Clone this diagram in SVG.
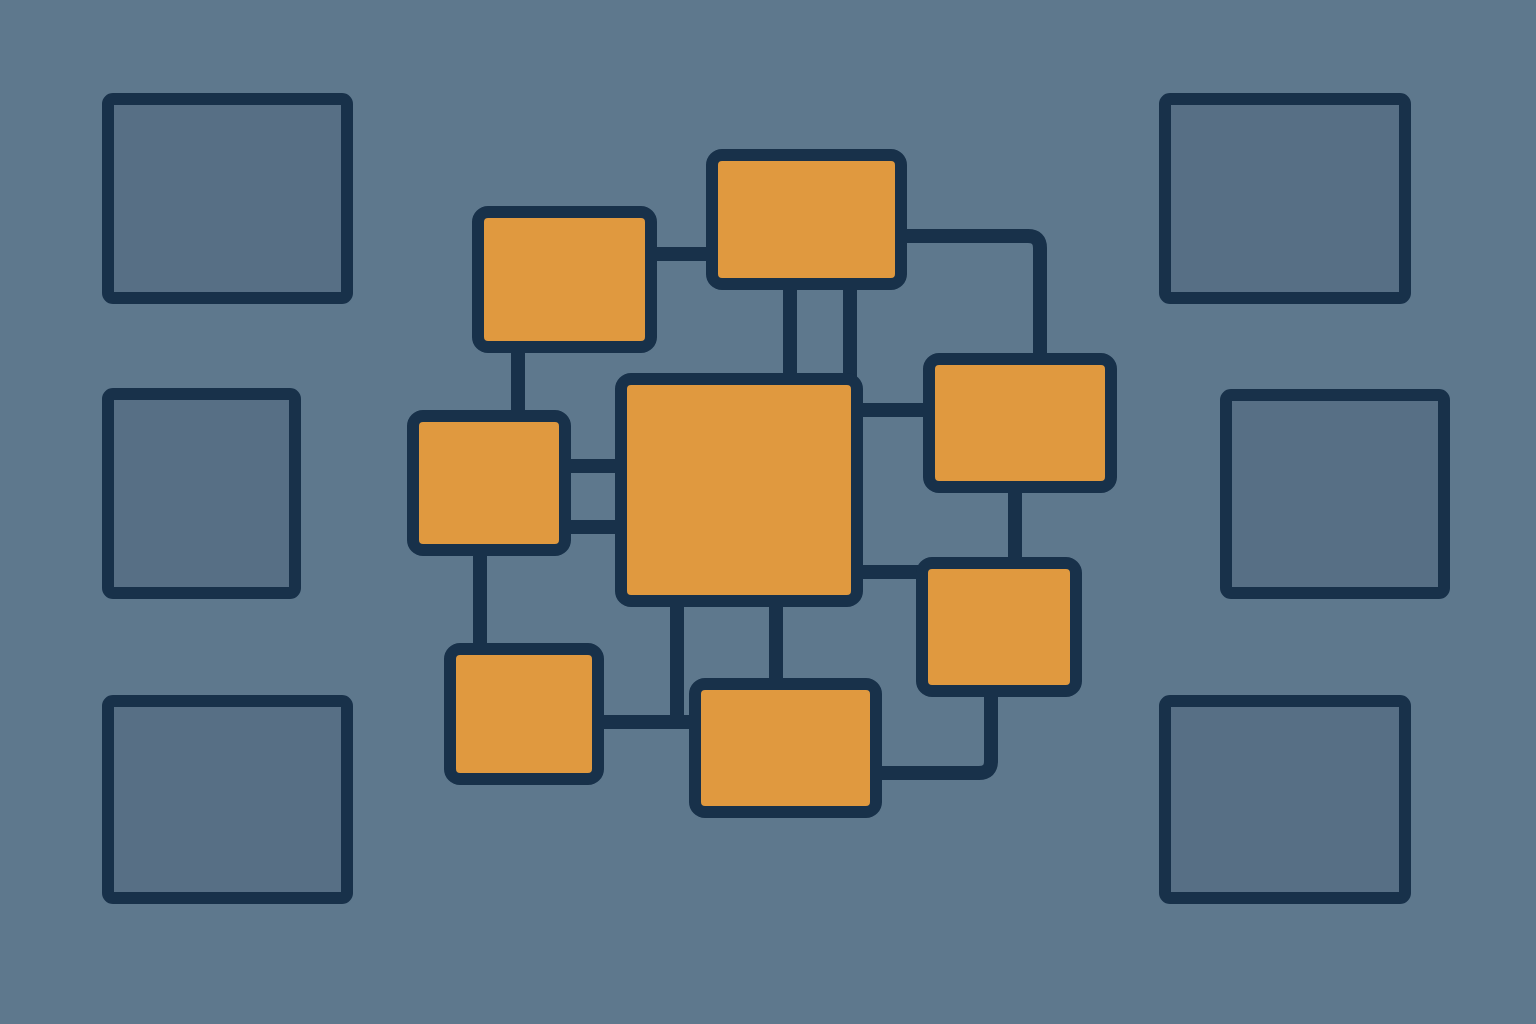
<svg xmlns="http://www.w3.org/2000/svg" width="1536" height="1024" viewBox="0 0 1536 1024">
<style>
.bg{fill:#5e788d}
.ghost{fill:#576f85;stroke:#18314a;stroke-width:12}
.node{fill:#e0993f;stroke:#18314a;stroke-width:12}
.link{fill:none;stroke:#18314a;stroke-width:14;stroke-linejoin:round}
</style>
<rect class="bg" x="0" y="0" width="1536" height="1024"/>
<g id="connectors">
<path class="link" d="M651 254H712"/>
<path class="link" d="M790 284V379"/>
<path class="link" d="M850 284V379"/>
<path class="link" d="M901 236H1028Q1040 236 1040 248V359"/>
<path class="link" d="M518 347V416"/>
<path class="link" d="M565 466H621"/>
<path class="link" d="M565 527H621"/>
<path class="link" d="M857 410H929"/>
<path class="link" d="M1015 487V563"/>
<path class="link" d="M857 572H922"/>
<path class="link" d="M480 550V649"/>
<path class="link" d="M677 601V722"/>
<path class="link" d="M598 722H695"/>
<path class="link" d="M776 601V684"/>
<path class="link" d="M991 691V761Q991 773 979 773H876"/>
</g>
<g id="ghost-left-top"><rect class="ghost" x="108" y="99" width="239" height="199" rx="5"/></g>
<g id="ghost-left-mid"><rect class="ghost" x="108" y="394" width="187" height="199" rx="5"/></g>
<g id="ghost-left-bot"><rect class="ghost" x="108" y="701" width="239" height="197" rx="5"/></g>
<g id="ghost-right-top"><rect class="ghost" x="1165" y="99" width="240" height="199" rx="5"/></g>
<g id="ghost-right-mid"><rect class="ghost" x="1226" y="395" width="218" height="198" rx="5"/></g>
<g id="ghost-right-bot"><rect class="ghost" x="1165" y="701" width="240" height="197" rx="5"/></g>
<g id="node-a"><rect class="node" x="478" y="212" width="173" height="135" rx="10"/></g>
<g id="node-b"><rect class="node" x="712" y="155" width="189" height="129" rx="10"/></g>
<g id="node-c"><rect class="node" x="621" y="379" width="236" height="222" rx="10"/></g>
<g id="node-d"><rect class="node" x="929" y="359" width="182" height="128" rx="10"/></g>
<g id="node-e"><rect class="node" x="413" y="416" width="152" height="134" rx="10"/></g>
<g id="node-f"><rect class="node" x="922" y="563" width="154" height="128" rx="10"/></g>
<g id="node-g"><rect class="node" x="450" y="649" width="148" height="130" rx="10"/></g>
<g id="node-h"><rect class="node" x="695" y="684" width="181" height="128" rx="10"/></g>
</svg>
